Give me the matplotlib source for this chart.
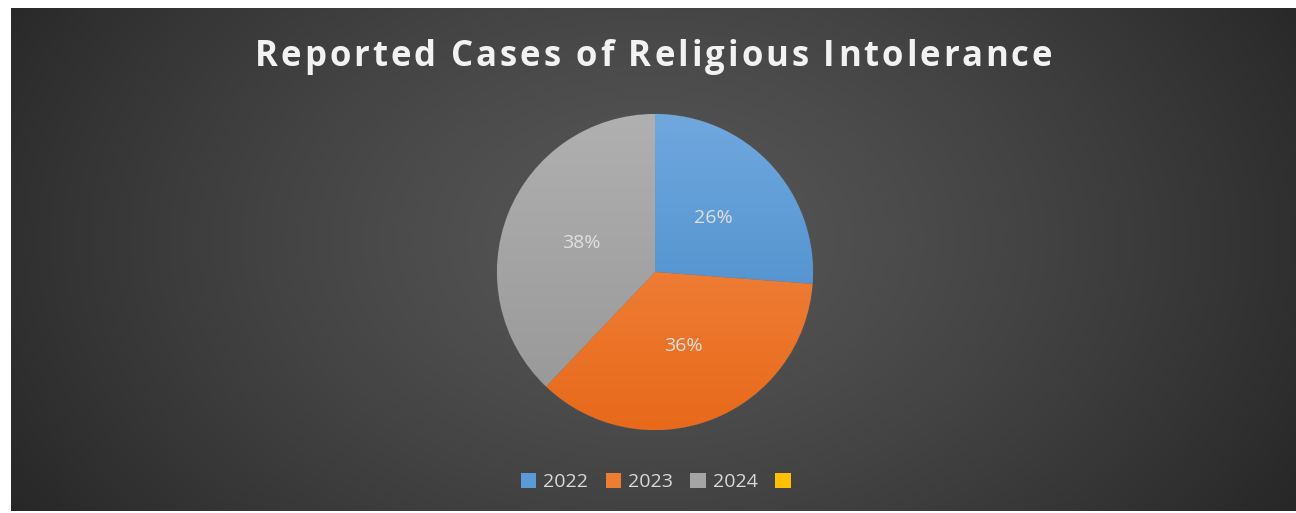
import numpy as np
import matplotlib
matplotlib.use("Agg")
import matplotlib.pyplot as plt
from matplotlib.colors import LinearSegmentedColormap
from matplotlib.patches import Patch

# data
title = "Reported Cases of Religious Intolerance"
years = ["2022", "2023", "2024", ""]
shares = [26.2, 35.9, 37.9]
top_colors = ["#70a8de", "#f4904f", "#b0b0b0"]
bottom_colors = ["#3f85c6", "#e8691a", "#969696"]
legend_colors = ["#5b9bd5", "#ed7d31", "#a5a5a5", "#ffc000"]

W, H = 1296, 513
fig = plt.figure(figsize=(W / 100, H / 100), dpi=100, facecolor="white")

# dark radial-gradient chart background
bg = fig.add_axes([11 / W, 2 / H, (W - 11) / W, (H - 10) / H])
bg.set_axis_off()
yy, xx = np.mgrid[0:500, 0:1285]
r = np.sqrt(((xx - 640) / 760) ** 2 + ((yy - 230) / 520) ** 2)
r = np.clip(r, 0, 1)
c0, c1 = 0.34, 0.15
shade = c0 - (c0 - c1) * r ** 1.3
bg.imshow(np.dstack([shade] * 3), aspect="auto", extent=[0, 1, 0, 1])
bg.set_xlim(0, 1)
bg.set_ylim(0, 1)

# title with letter spacing, drawn char by char
renderer = fig.canvas.get_renderer()
tkw = dict(color="#f2f2f2", fontsize=25, fontweight="bold", family="Open Sans",
           va="center", ha="left")
probe = fig.text(0, 0, title, **tkw)
full_w = probe.get_window_extent(renderer).width
probe.remove()
spacing = (797 - full_w) / (len(title) - 1)
x0 = 255
for i, ch in enumerate(title):
    if i > 0:
        p = fig.text(0, 0, title[:i] + "|", **tkw)
        q = fig.text(0, 0, "|", **tkw)
        off = p.get_window_extent(renderer).width - q.get_window_extent(renderer).width
        p.remove()
        q.remove()
    else:
        off = 0
    fig.text((x0 + off + i * spacing) / W, 1 - 57 / H, ch, **tkw)

# pie axes, radius 1 = 158 px
cx, cy, half = 655, 272, 170
ax = fig.add_axes([(cx - half) / W, (H - cy - half) / H, 2 * half / W, 2 * half / H])
ax.set_axis_off()
lim = half / 158

wedges, texts, autotexts = ax.pie(
    shares, startangle=90, counterclock=False, colors=legend_colors[:3],
    autopct="%1.0f%%", pctdistance=0.5, radius=1,
    wedgeprops=dict(edgecolor="#5a5a5a", linewidth=0.6),
    textprops=dict(color="#e0e0e0", fontsize=14, family="Open Sans"))

grad = np.linspace(0, 1, 256).reshape(-1, 1)
for w, ct, cb in zip(wedges, top_colors, bottom_colors):
    cmap = LinearSegmentedColormap.from_list("g", [ct, cb])
    im = ax.imshow(grad, cmap=cmap, extent=[-1, 1, -1, 1], aspect="auto",
                   origin="upper", zorder=1)
    im.set_clip_path(w)
for t in autotexts:
    t.set_zorder(5)
ax.set_xlim(-lim, lim)
ax.set_ylim(-lim, lim)

# legend
handles = [Patch(facecolor=c, edgecolor="none") for c in legend_colors]
fig.legend(handles, years, loc="center", bbox_to_anchor=(659 / W, 1 - 482 / H),
           ncol=4, frameon=False, labelcolor="#d9d9d9",
           handlelength=0.8, handleheight=0.8, handletextpad=0.35,
           columnspacing=0.9, prop=dict(family="Open Sans", size=14))

fig.savefig("out.png", dpi=100, facecolor="white")
